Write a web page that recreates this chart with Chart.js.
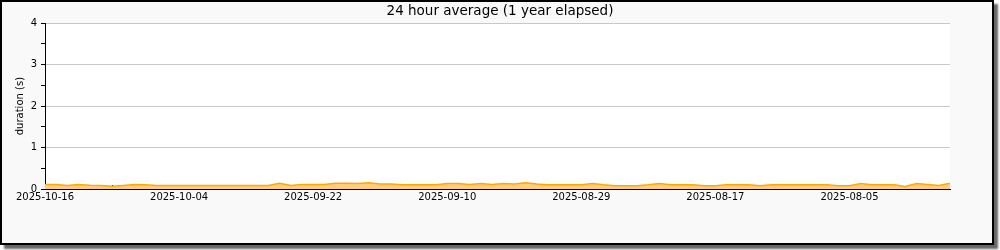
<!DOCTYPE html>
<html>
<head>
<meta charset="utf-8">
<script src="https://cdn.jsdelivr.net/npm/chart.js@4.4.1/dist/chart.umd.min.js"></script>
<style>
  html, body { margin: 0; padding: 0; background: #fff; }
  #frame { position: absolute; left: 0; top: 0; width: 994px; height: 245px; box-sizing: border-box;
           border: 2px solid #000; background: #f9f9f9; box-shadow: 4px 4px 2px #666; }
  #wrap { position: absolute; left: 0; top: 0; width: 1000px; height: 250px; }
</style>
</head>
<body>
<div id="frame"></div>
<div id="wrap"><canvas id="durationChart"></canvas></div>
<script>
// days back from 2025-10-16 (left edge) to the oldest point (right edge)
const daysBack = [0, 1, 2, 3, 4, 5, 6, 7, 8, 9, 10, 11, 12, 13, 14, 15, 16, 17, 18, 19, 20,
  21, 22, 23, 24, 25, 26, 27, 28, 29, 30, 31, 32, 33, 34, 35, 36, 37, 38, 39, 40,
  41, 42, 43, 44, 45, 46, 47, 48, 49, 50, 51, 52, 53, 54, 55, 56, 57, 58, 59, 60,
  61, 62, 63, 64, 65, 66, 67, 68, 69, 70, 71, 72, 73, 74, 75, 76, 77, 78, 79, 80, 81];
const avgDuration = [0.11, 0.11, 0.085, 0.11, 0.09, 0.085, 0.065, 0.085, 0.11, 0.1, 0.085,
  0.085, 0.085, 0.085, 0.085, 0.085, 0.085, 0.085, 0.085, 0.085, 0.085,
  0.14, 0.085, 0.11, 0.11, 0.11, 0.14, 0.14, 0.13, 0.15, 0.12,
  0.12, 0.1, 0.1, 0.1, 0.1, 0.13, 0.13, 0.11, 0.13, 0.11,
  0.13, 0.12, 0.15, 0.12, 0.1, 0.1, 0.1, 0.1, 0.13, 0.1,
  0.08, 0.08, 0.08, 0.1, 0.13, 0.1, 0.1, 0.1, 0.08, 0.08,
  0.1, 0.1, 0.1, 0.08, 0.1, 0.1, 0.1, 0.1, 0.1, 0.1,
  0.08, 0.08, 0.13, 0.1, 0.1, 0.1, 0.06, 0.13, 0.11, 0.085, 0.14];
// one label every 12 days
const dateLabels = ['2025-10-16', '2025-10-04', '2025-09-22', '2025-09-10', '2025-08-29', '2025-08-17', '2025-08-05'];

const plotBackground = {
  id: 'plotBackground',
  beforeDraw(chart) {
    const {ctx, chartArea: a} = chart;
    ctx.save();
    ctx.fillStyle = '#fff';
    ctx.fillRect(a.left, a.top, a.right - a.left, a.bottom - a.top);
    ctx.restore();
  }
};

const font = {family: 'DejaVu Sans', size: 10};

new Chart(document.getElementById('durationChart'), {
  type: 'line',
  data: {
    datasets: [{
      data: daysBack.map((d, i) => ({x: d, y: avgDuration[i]})),
      fill: 'origin',
      backgroundColor: '#ffcc80',
      borderColor: '#ffa800',
      borderWidth: 1.5,
      pointRadius: 0,
      tension: 0
    }]
  },
  options: {
    responsive: true,
    maintainAspectRatio: false,
    animation: false,
    layout: {padding: 0},
    plugins: {
      legend: {display: false},
      tooltip: {enabled: false},
      title: {
        display: true,
        text: '24 hour average (1 year elapsed)',
        color: '#000',
        font: {family: 'DejaVu Sans', size: 13.5, weight: 'normal'},
        padding: {top: 3, bottom: 4}
      }
    },
    scales: {
      x: {
        type: 'linear', min: 0, max: 81, z: 1,
        afterBuildTicks: s => { s.ticks = s.ticks.filter(t => t.value % 6 === 0); },
        afterFit: s => { s.height = 61; },
        ticks: {
          stepSize: 6, autoSkip: false, maxRotation: 0, color: '#000', font: font, padding: 6,
          callback: v => v % 12 === 0 ? dateLabels[v / 12] : ''
        },
        grid: {drawOnChartArea: false, tickLength: -4, tickColor: '#000'},
        border: {color: '#000', width: 1}
      },
      y: {
        min: 0, max: 4, z: 1,
        afterFit: s => { s.width = 45; },
        ticks: {stepSize: 0.5, color: '#000', font: font, padding: 4,
          callback: v => v % 1 === 0 ? v : ''},
        grid: {
          color: c => (c.tick && c.tick.value % 1 === 0) ? '#c8c8c8' : 'rgba(0,0,0,0)',
          tickColor: '#000', tickLength: 4
        },
        border: {color: '#000', width: 1},
        title: {display: true, text: 'duration (s)', color: '#000', font: font, padding: {top: 14, bottom: 0}}
      },
      // empty right margin so the title centres on the whole image
      yRight: {
        position: 'right', min: 0, max: 4,
        afterFit: s => { s.width = 50; },
        ticks: {display: false},
        grid: {display: false},
        border: {display: false}
      }
    }
  },
  plugins: [plotBackground]
});
</script>
</body>
</html>
